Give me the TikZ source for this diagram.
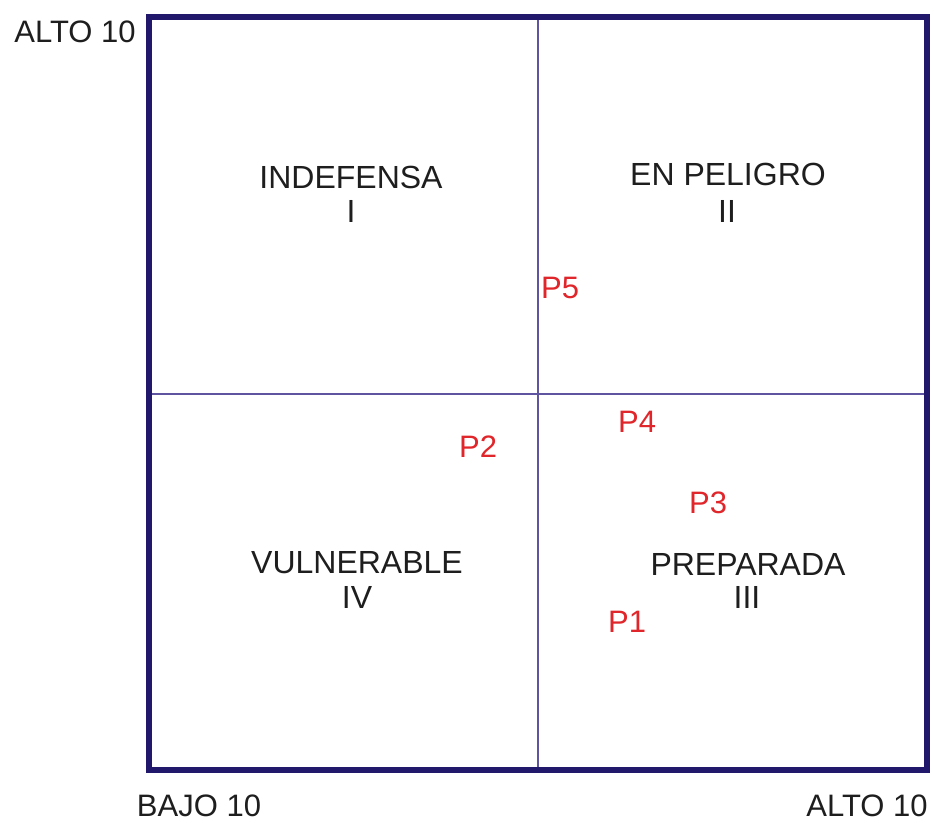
\documentclass[tikz,border=0pt]{standalone}
\usepackage{fontspec}
\setmainfont{Liberation Sans}
\definecolor{frame}{HTML}{22186B}
\definecolor{midline}{HTML}{5E54A0}
\definecolor{pred}{HTML}{E0262A}
\definecolor{txt}{HTML}{1E1E1E}
\begin{document}
\begin{tikzpicture}[x=1pt,y=-1pt,
  quad/.style={anchor=base,inner sep=0pt,text=txt,font=\fontsize{32}{34}\selectfont},
  corner/.style={anchor=base,inner sep=0pt,text=txt,font=\fontsize{31}{33}\selectfont},
  plabel/.style={anchor=base west,inner sep=0pt,text=pred,font=\fontsize{31}{33}\selectfont}]
\useasboundingbox (0,0) rectangle (934,822);
\fill[white] (0,0) rectangle (934,822);
% frame and quadrant lines
\coordinate (tl) at (148.5,17);
\coordinate (br) at (926.5,770);
\coordinate (mt) at (538,17);
\coordinate (mb) at (538,770);
\coordinate (ml) at (148.5,393.5);
\coordinate (mr) at (926.5,393.5);
\draw[midline,line width=2pt] (mt) -- (mb);
\draw[midline,line width=2pt] (ml) -- (mr);
\draw[frame,line width=6pt] (tl) rectangle (br);
% corner labels
\node[corner] (altoTop) at (75,42) {ALTO 10};
\node[corner] (bajo) at (199,816) {BAJO 10};
\node[corner] (altoRight) at (867,816) {ALTO 10};
% quadrant labels
\node[quad] (q1) at (351,188) {INDEFENSA};
\node[quad] (q1n) at (351,222) {I};
\node[quad] (q2) at (728,185) {EN PELIGRO};
\node[quad] (q2n) at (727,222) {II};
\node[quad] (q4) at (357,573) {VULNERABLE};
\node[quad] (q4n) at (357,608) {IV};
\node[quad] (q3) at (748,575) {PREPARADA};
\node[quad] (q3n) at (747,608) {III};
% points
\node[plabel] (p5) at (541,298) {P5};
\node[plabel] (p4) at (618,432) {P4};
\node[plabel] (p2) at (459,457) {P2};
\node[plabel] (p3) at (689,513) {P3};
\node[plabel] (p1) at (608,632) {P1};
\end{tikzpicture}
\end{document}
